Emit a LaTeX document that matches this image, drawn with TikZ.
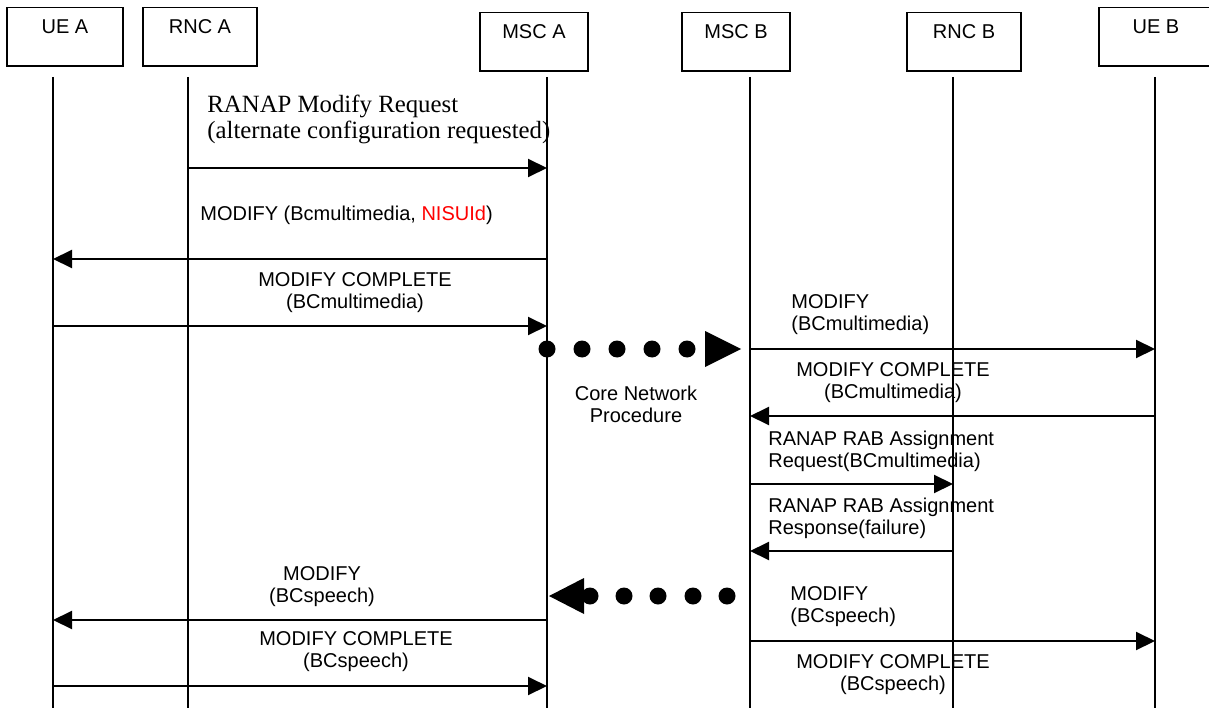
\documentclass[tikz,border=0pt]{standalone}
\usepackage{fontspec}
\setmainfont{Liberation Sans}
\newfontfamily\serifrm{Liberation Serif}
\usepackage{tikz}
\usepackage{xcolor}
\usetikzlibrary{arrows.meta}

\begin{document}
\begin{tikzpicture}[x=0.5pt, y=-0.5pt,
        entity/.style={draw, line width=0.65pt, anchor=north, inner sep=0pt, text height=13pt, text depth=16.2pt, font=\fontsize{10}{11}\selectfont},
        life/.style={line width=0.65pt},
        msg/.style={line width=1pt, -{Triangle[length=9.5pt, width=9pt]}},
        lbl/.style={inner sep=0pt, align=center, font=\fontsize{10}{11}\selectfont},
        lbll/.style={lbl, anchor=west, align=left}]
                \useasboundingbox (0,0) rectangle (1209,711);
                \foreach \name/\txt/\x/\y/\w/\lx in {uea/UE A/65/7/58pt/53, rnca/RNC A/200/7/57pt/188, msca/MSC A/534/12/54pt/547, mscb/MSC B/736/12/54pt/750, rncb/RNC B/964/12/57pt/953, ueb/UE B/1156/7/57pt/1155} {
                    \node[entity, minimum width=\w] (\name) at (\x,\y) {\txt};
                    \coordinate (\name-top) at (\lx,77);
                    \coordinate (\name-end) at (\lx,708);
                    \draw[life] (\name-top) -- (\name-end);
                }

                \node[anchor=west, inner sep=0pt, align=left, font=\serifrm\fontsize{12.4}{13}\selectfont] (ranapmod) at (207,119) {RANAP Modify Request\\(alternate configuration requested)};
                \node[lbll] (modbcm) at (200,215) {MODIFY (Bcmultimedia, \textcolor{red}{NISUId})};
                \node[lbl] (compa) at (355,293) {MODIFY COMPLETE\\(BCmultimedia)};
                \node[lbll] (modb) at (791,315) {MODIFY\\(BCmultimedia)};
                \node[lbl] (compb) at (893,383) {MODIFY COMPLETE\\(BCmultimedia)};
                \node[lbl] (core) at (636,404) {Core Network\\Procedure};
                \node[lbll] (rabreq) at (768,451) {RANAP RAB Assignment\\Request(BCmultimedia)};
                \node[lbll] (rabresp) at (768,518) {RANAP RAB Assignment\\Response(failure)};
                \node[lbl] (speecha) at (322,587) {MODIFY\\(BCspeech)};
                \node[lbll] (speechb) at (790,607) {MODIFY\\(BCspeech)};
                \node[lbl] (compspa) at (356,652) {MODIFY COMPLETE\\(BCspeech)};
                \node[lbl] (compspb) at (893,675) {MODIFY COMPLETE\\(BCspeech)};

                \draw[msg] (rnca-top |- 0,168) -- (msca-top |- 0,168);
                \draw[msg] (msca-top |- 0,259) -- (uea-top |- 0,259);
                \draw[msg] (uea-top |- 0,326) -- (msca-top |- 0,326);
                \draw[msg] (mscb-top |- 0,349) -- (ueb-top |- 0,349);
                \draw[msg] (ueb-top |- 0,416) -- (mscb-top |- 0,416);
                \draw[msg] (mscb-top |- 0,484) -- (rncb-top |- 0,484);
                \draw[msg] (rncb-top |- 0,551) -- (mscb-top |- 0,551);
                \draw[msg] (msca-top |- 0,620) -- (uea-top |- 0,620);
                \draw[msg] (mscb-top |- 0,641) -- (ueb-top |- 0,641);
                \draw[msg] (uea-top |- 0,686) -- (msca-top |- 0,686);

                \foreach \x in {547,582,617,652,687} {
                    \fill (\x,349) circle (4.25pt);
                }
                \fill (705,331) -- (741,349) -- (705,367) -- cycle;
                \foreach \x in {590,624,658,693,727} {
                    \fill (\x,596) circle (4.25pt);
                }
                \fill (549,596) -- (584,578) -- (584,614) -- cycle;
            \end{tikzpicture}
\end{document}
